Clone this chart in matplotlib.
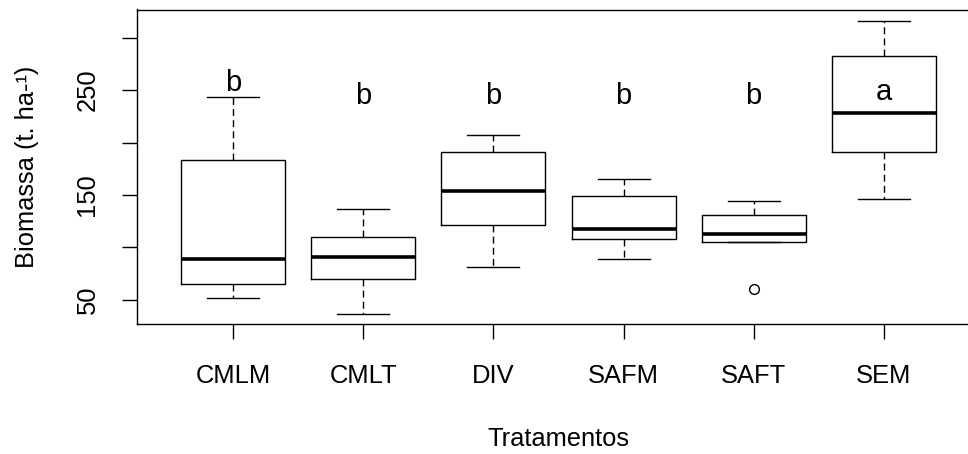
import matplotlib
matplotlib.use("Agg")
import matplotlib.pyplot as plt

# Biomassa por tratamento (resumo dos boxplots)
tratamentos = ["CMLM", "CMLT", "DIV", "SAFM", "SAFT", "SEM"]
limite_sup = [243, 137, 207, 165, 144, 316]
quartil3 = [183, 110, 191, 149, 131, 282]
mediana = [89, 91, 154, 118, 113, 228]
quartil1 = [65, 70, 121, 108, 105, 191]
limite_inf = [52, 37, 81, 89, 105, 146]
outliers = [[], [], [], [], [60], []]

# Letras do teste de médias e altura onde são escritas
letras = ["b", "b", "b", "b", "b", "a"]
letras_y = [249, 236.7, 236.7, 236.7, 236.7, 240.2]

y_ticks = [50, 100, 150, 200, 250, 300]
y_rotulos = ["50", "", "150", "", "250", ""]

plt.rcParams["font.family"] = ["Liberation Sans", "DejaVu Sans"]

fig = plt.figure(figsize=(9.68, 4.54), dpi=100)
ax = fig.add_axes([137 / 968, 130 / 454, (980 - 137) / 968, (324 - 9.5) / 454])

stats = []
for i, nome in enumerate(tratamentos):
    stats.append({
        "label": nome,
        "med": mediana[i],
        "q1": quartil1[i],
        "q3": quartil3[i],
        "whislo": limite_inf[i],
        "whishi": limite_sup[i],
        "fliers": outliers[i],
    })

pos = list(range(1, len(tratamentos) + 1))
ax.bxp(stats, positions=pos, widths=0.8,
       boxprops=dict(color="black", linewidth=1.0),
       medianprops=dict(color="black", linewidth=2.6, solid_capstyle="butt"),
       whiskerprops=dict(color="black", linewidth=1.0, linestyle=(0, (5, 3))),
       capprops=dict(color="black", linewidth=1.0),
       capwidths=0.4,
       flierprops=dict(marker="o", markerfacecolor="white", markeredgecolor="black",
                       markersize=7, markeredgewidth=1.0))

for i, letra in enumerate(letras):
    ax.text(pos[i], letras_y[i], letra, ha="center", va="baseline", fontsize=21)

ax.set_xlim(0.26, 6.74)
ax.set_ylim(27.1, 326.7)

ax.set_yticks(y_ticks)
ax.set_yticklabels(y_rotulos, rotation=90, va="center")
ax.set_xticks(pos)
ax.set_xticklabels(tratamentos)

ax.tick_params(axis="both", length=11, width=1.0, labelsize=18.4, color="black")
ax.tick_params(axis="y", pad=16)
ax.tick_params(axis="x", pad=18)

for lado in ["left", "top", "bottom", "right"]:
    ax.spines[lado].set_linewidth(1.0)

ax.set_xlabel("Tratamentos", fontsize=18.4, labelpad=28)
ax.set_ylabel("Biomassa (t. ha-¹)", fontsize=18.4, labelpad=26)

fig.savefig("out.png", dpi=100)
